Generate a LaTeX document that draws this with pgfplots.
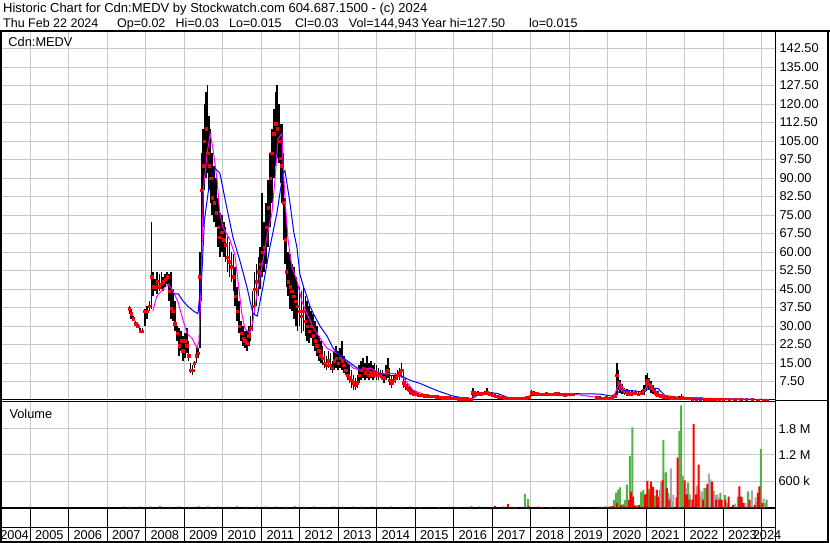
\documentclass[border=0pt]{standalone}
\usepackage{pgfplots}
\pgfplotsset{compat=1.18}
\usepackage{pgfplotstable}
\usepackage{fontspec}
\setmainfont{Liberation Sans}
\definecolor{gridc}{RGB}{200,200,200}
\definecolor{vgreen}{RGB}{80,180,70}
\definecolor{vgray}{RGB}{168,168,168}
\definecolor{magline}{RGB}{255,0,255}
\definecolor{blueline}{RGB}{0,0,255}

\pgfplotstableread{
t lo hi cl
2007.58 35 38 37
2007.63 33 37 35
2007.68 32 34 33
2007.74 30 32 31
2007.80 29 31 30
2007.86 27 29 28
2007.92 27 29 28
2007.98 30 37 36
2008.04 33 38 36
2008.10 36 40 38
2008.16 37 72 50
2008.20 42 52 46
2008.25 44 49 46
2008.30 43 52 48
2008.36 44 51 46
2008.41 45 52 47
2008.46 44 50 48
2008.51 46 51 49
2008.56 47 52 50
2008.61 40 51 44
2008.66 33 52 37
2008.71 32 45 36
2008.76 28 40 31
2008.82 24 30 27
2008.87 18 29 22
2008.92 20 28 24
2008.97 16 26 20
2009.02 17 27 24
2009.07 19 29 22
2009.12 16 24 18
2009.17 11 15 12
2009.22 10 14 12
2009.27 13 16 15
2009.32 15 21 18
2009.36 17 21 19
2009.41 21 60 50
2009.45 40 100 85
2009.49 70 110 95
2009.53 85 120 105
2009.57 90 125 110
2009.61 92 127.5 100
2009.65 85 115 95
2009.69 80 110 90
2009.73 75 100 82
2009.78 72 95 80
2009.83 70 90 76
2009.88 62 82 70
2009.93 58 76 66
2009.98 60 75 68
2010.03 58 72 65
2010.08 56 70 63
2010.13 52 66 58
2010.18 50 64 56
2010.23 48 60 54
2010.28 44 59 50
2010.33 38 54 42
2010.38 32 46 36
2010.43 27 40 30
2010.48 24 32 27
2010.53 22 30 25
2010.58 21 28 24
2010.63 20 28 23
2010.68 22 30 26
2010.73 24 34 29
2010.78 28 44 38
2010.83 35 52 45
2010.88 38 55 48
2010.93 42 58 52
2010.98 45 62 55
2011.03 50 84 60
2011.08 52 72 62
2011.13 55 80 70
2011.18 62 89 78
2011.23 70 100 90
2011.28 80 110 100
2011.33 90 118 108
2011.38 95 125 112
2011.42 98 127.5 110
2011.46 96 120 105
2011.50 88 112 98
2011.54 80 112 95
2011.58 65 100 80
2011.62 55 82 65
2011.66 46 72 52
2011.70 42 60 48
2011.75 37 59 46
2011.80 36 55 44
2011.85 33 54 42
2011.90 30 50 40
2011.95 28 48 38
2012.00 30 46 36
2012.05 27 44 34
2012.10 28 46 36
2012.15 26 42 32
2012.20 24 40 30
2012.25 23 38 28
2012.30 25 36 30
2012.35 22 35 26
2012.40 20 32 24
2012.45 18 30 22
2012.50 16 26 20
2012.55 15 24 18
2012.60 14 22 17
2012.65 13 20 15
2012.70 12 18 14
2012.75 13 20 16
2012.80 12 19 14
2012.85 11 16 13
2012.90 12 20 16
2012.95 13 22 17
2013.00 12 20 15
2013.05 13 21 17
2013.10 12 24 16
2013.15 11 18 14
2013.20 10 16 12
2013.25 8 15 10
2013.30 7 14 9
2013.35 5 12 8
2013.40 4 10 7
2013.45 4 9 6
2013.50 5 10 7
2013.55 7 14 10
2013.60 8 16 12
2013.65 9 17 13
2013.70 8 15 11
2013.75 9 18 12
2013.80 8 15 10
2013.85 9 16 11
2013.90 8 14 10
2013.95 9 15 11
2014.00 8 14 10
2014.05 8 13 10
2014.10 9 12 10
2014.15 8 12 9
2014.20 7 11 9
2014.25 8 14 11
2014.29 9 17 12
2014.34 6 13 8
2014.39 5 10 7
2014.44 6 10 8
2014.49 7 11 9
2014.54 8 12 10
2014.60 8 13 11
2014.65 9 15 12
2014.70 5 12 7
2014.75 4 9 6
2014.80 3.5 7 5
2014.85 2.5 6 4
2014.90 2 5 3
2014.95 2 4 2.5
2015.00 1.5 3.5 2.5
2015.08 1.5 3 2
2015.16 1.5 2.6 2
2015.24 1.2 2.5 1.8
2015.32 1.2 2.4 1.8
2015.40 1 2.2 1.6
2015.48 1 2 1.5
2015.56 0.8 1.8 1.3
2015.64 0.8 1.8 1.2
2015.72 0.6 1.6 1.0
2015.80 0.6 1.5 1.0
2015.88 0.5 1.4 0.9
2015.96 0.5 1.2 0.8
2016.04 0.4 1.0 0.7
2016.12 0.3 0.9 0.5
2016.20 0.3 0.8 0.5
2016.28 0.3 0.8 0.5
2016.36 0.3 0.8 0.5
2016.44 0.2 0.7 0.4
2016.50 1.0 5.0 3.0
2016.56 1.5 3.5 2.5
2016.64 2.0 3.5 2.6
2016.72 2.0 3.4 2.6
2016.80 2.2 3.6 2.8
2016.86 2.0 5.0 3.0
2016.92 1.8 3.4 2.5
2017.00 1.2 2.8 2.0
2017.08 1.0 2.4 1.6
2017.16 0.8 2.0 1.3
2017.24 0.6 1.8 1.1
2017.32 0.5 1.5 0.9
2017.40 0.4 1.3 0.8
2017.48 0.4 1.2 0.8
2017.56 0.4 1.2 0.7
2017.64 0.4 1.1 0.7
2017.72 0.4 1.1 0.8
2017.80 0.5 1.2 0.8
2017.88 0.6 1.4 1.0
2017.96 0.8 1.6 1.2
2018.02 1.5 4.0 3.0
2018.08 1.8 3.6 2.8
2018.16 1.8 3.2 2.6
2018.24 1.6 3.0 2.4
2018.32 1.6 3.0 2.4
2018.40 1.8 3.2 2.6
2018.48 1.6 3.0 2.4
2018.56 1.6 3.0 2.4
2018.64 1.8 3.2 2.5
2018.72 1.8 3.4 2.6
2018.80 1.6 3.0 2.4
2018.88 1.4 2.8 2.2
2018.96 1.6 3.0 2.4
2019.04 1.6 3.0 2.4
2019.10 1.6 3.0 2.4
2019.72 0.5 1.8 1.0
2019.80 0.4 1.6 0.8
2019.88 0.4 1.4 0.8
2019.96 0.5 1.6 1.0
2020.04 0.4 1.4 0.8
2020.12 0.5 1.6 1.0
2020.20 0.8 2.6 1.8
2020.24 2.0 14.8 10
2020.28 4.0 12 7
2020.32 3.0 8 5
2020.38 2.5 6.5 4
2020.44 2.0 5 3.2
2020.50 1.8 4.5 3
2020.56 1.5 4 2.6
2020.64 1.8 4 2.8
2020.72 2.0 4 3
2020.80 1.5 3.5 2.4
2020.88 2.0 4 2.8
2020.94 2.0 6 4
2021.00 3.5 10 7
2021.04 5 11 8
2021.08 4 9 6.5
2021.12 3 7.5 5
2021.18 2.5 6 4
2021.24 1.8 4.5 3
2021.30 1.2 3.5 2
2021.38 1.0 2.6 1.8
2021.46 0.8 2.2 1.4
2021.54 0.6 1.8 1.2
2021.62 0.5 1.5 1.0
2021.70 0.6 1.6 1.0
2021.78 0.4 1.2 0.8
2021.86 0.4 1.5 0.8
2021.92 0.5 2.4 1.0
2022.00 0.4 1.4 0.8
2022.10 0.3 1.2 0.7
2022.20 0.3 1.1 0.6
2022.30 0.3 1.0 0.6
2022.40 0.2 0.9 0.5
2022.50 0.2 0.8 0.4
2022.60 0.2 0.7 0.4
2022.70 0.1 0.5 0.3
2022.80 0.1 0.4 0.2
2022.90 0.05 0.3 0.15
2023.00 0.05 0.25 0.15
2023.15 0.04 0.2 0.1
2023.30 0.03 0.15 0.08
2023.45 0.03 0.12 0.06
2023.60 0.02 0.1 0.05
2023.75 0.02 0.08 0.04
2023.90 0.015 0.06 0.03
2024.05 0.015 0.05 0.03
2024.14 0.015 0.03 0.03
}\price

\pgfplotstableread{
t v
2008.19 36
2008.29 42
2008.46 45
2008.59 47
2008.72 44
2008.85 39.5
2008.98 32
2009.08 27
2009.21 25
2009.34 21
2009.39 24
2009.47 62
2009.50 85
2009.60 100
2009.68 108
2009.75 102
2009.86 89
2009.93 75.6
2010.01 70
2010.19 65
2010.32 59
2010.40 48.5
2010.50 35
2010.58 29
2010.71 27
2010.79 32
2010.92 45.6
2011.05 56.5
2011.15 66
2011.28 75.6
2011.36 89
2011.44 106
2011.54 108
2011.57 96
2011.62 82
2011.70 65
2011.80 54
2011.93 48.5
2012.06 40
2012.19 35
2012.35 29.5
2012.53 25
2012.71 21
2012.97 19
2013.13 17
2013.39 13
2013.57 12
2013.83 13
2014.09 10.8
2014.43 10.8
2014.69 9
2014.95 3.9
2015.31 1.8
2015.80 1.0
2016.17 0.6
2016.45 0.4
2016.55 2
2016.70 2.8
2016.90 2.8
2017.10 1.8
2017.40 0.9
2017.90 1.0
2018.05 2.6
2018.30 2.4
2019.10 2.4
2019.75 1.0
2020.15 0.9
2020.25 5
2020.32 7
2020.42 4.5
2020.55 3
2020.80 2.6
2020.95 3.5
2021.05 7
2021.12 6.5
2021.25 3.5
2021.40 1.8
2021.70 1.0
2021.95 1.0
2022.50 0.4
2023.00 0.15
2024.14 0.05
}\magma

\pgfplotstableread{
t v
2008.70 43
2008.85 43
2008.98 40
2009.10 38
2009.25 36
2009.36 35
2009.46 50
2009.53 73
2009.67 89
2009.80 94
2009.93 92
2010.11 78
2010.27 66
2010.45 56.5
2010.63 46
2010.79 35
2010.90 34
2011.05 46
2011.23 62
2011.41 75.6
2011.57 92
2011.62 93
2011.75 80
2011.85 68
2011.93 62
2012.01 51
2012.10 46
2012.19 42
2012.27 38
2012.36 35
2012.53 30
2012.71 26
2012.87 21
2013.05 18
2013.23 16
2013.49 13
2013.75 12
2014.27 10
2014.61 10
2014.87 8
2015.13 6.7
2015.57 3.8
2015.98 1.6
2016.20 1.0
2016.43 0.3
2016.52 1
2016.70 2.6
2016.97 3
2017.15 2.6
2017.41 1
2017.93 0.6
2018.02 1.8
2018.20 2.6
2019.00 2.6
2019.80 2.4
2020.10 1.6
2020.22 2.6
2020.35 3.9
2020.58 3.9
2020.92 3.2
2021.10 5
2021.31 4.6
2021.49 1.8
2021.88 1
2022.74 0.6
2024.14 0.2
}\bluema

\pgfplotsset{
  swbase/.style={
    scale only axis,
    xmin=2004.221, xmax=2024.346,
    axis line style={black, line width=1pt},
    major tick length=0pt,
    tick style={draw=none},
    xtick={2005,2006,2007,2008,2009,2010,2011,2012,2013,2014,2015,2016,2017,2018,2019,2020,2021,2022,2023,2024},
    xticklabels={},
    xmajorgrids, ymajorgrids,
    grid style={gridc, line width=0.9pt},
  }
}

\begin{document}
\begin{tikzpicture}[x=1pt, y=1pt, font=\fontsize{12.8}{15}\selectfont]
\path[use as bounding box] (0,0) rectangle (830,543);

% title
\node[anchor=base west, inner sep=0, font=\fontsize{13}{15}\selectfont] at (3,530.3) {Historic Chart for Cdn:MEDV by Stockwatch.com 604.687.1500 - (c) 2024};
\begin{scope}[font=\fontsize{12.5}{14}\selectfont]
\node[anchor=base west, inner sep=0] at (3,515.7) {Thu Feb 22 2024};
\node[anchor=base west, inner sep=0] at (116.9,515.7) {Op=0.02};
\node[anchor=base west, inner sep=0] at (175.5,515.7) {Hi=0.03};
\node[anchor=base west, inner sep=0] at (229,515.7) {Lo=0.015};
\node[anchor=base west, inner sep=0] at (295,515.7) {Cl=0.03};
\node[anchor=base west, inner sep=0] at (348.7,515.7) {Vol=144,943};
\node[anchor=base west, inner sep=0] at (421,515.7) {Year hi=127.50};
\node[anchor=base west, inner sep=0] at (529,515.7) {lo=0.015};
\end{scope}

% price panel
\begin{axis}[swbase, at={(0pt,143pt)}, anchor=south west, width=775pt, height=368pt,
  ymin=0, ymax=149.19,
  ytick={7.5,15,22.5,30,37.5,45,52.5,60,67.5,75,82.5,90,97.5,105,112.5,120,127.5,135,142.5},
  yticklabel pos=right,
  yticklabel style={anchor=west, xshift=1pt},
  /pgf/number format/fixed, /pgf/number format/fixed zerofill,
  /pgf/number format/precision=2, /pgf/number format/assume math mode=true]
\addplot[draw=none, mark=none, error bars/.cd, y dir=plus, y explicit, error mark=none,
  error bar style={draw=black, line width=1.6pt}]
  table[x=t, y=lo, y error expr=\thisrow{hi}-\thisrow{lo}] {\price};
\addplot[only marks, mark=square*, mark size=1.2pt, red, mark options={draw=red, fill=red}]
  table[x=t, y=cl] {\price};
\addplot[magline, line width=1pt] table[x=t, y=v] {\magma};
\addplot[blueline, line width=1pt] table[x=t, y=v] {\bluema};
\end{axis}

% volume panel
\begin{axis}[swbase, at={(0pt,35.5pt)}, anchor=south west, width=775pt, height=105.5pt,
  ymin=0, ymax=2407000, scaled y ticks=false,
  ytick={600000,1200000,1800000}, yticklabels={600 k,1.2 M,1.8 M},
  yticklabel pos=right, yticklabel style={anchor=west, xshift=0pt}]
\addplot[ybar, bar width=2pt, bar shift=0pt, fill=vgreen, draw=none] coordinates {
(2007.62,20000) (2008.12,25000) (2008.62,20000) (2009.12,20000) (2009.62,25000) (2010.12,20000) (2010.62,20000) (2011.12,25000) (2011.62,20000) (2012.12,20000) (2012.62,20000) (2013.12,20000) (2013.62,20000) (2014.12,20000) (2014.62,20000) (2015.12,15000) (2015.62,15000) (2016.12,15000) (2016.46,35000) (2016.80,20000) (2017.30,25000) (2017.85,312000) (2017.93,196000) (2018.30,15000) (2018.70,20000) (2019.10,20000) (2019.75,20000) (2019.95,25000)
(2020.16,170000) (2020.22,340000) (2020.27,400000) (2020.32,457000) (2020.40,80000) (2020.45,170000) (2020.50,520000) (2020.58,1170000) (2020.64,1830000) (2020.76,50000) (2020.87,360000) (2020.93,400000) (2021.08,430000) (2021.15,300000) (2021.23,270000) (2021.36,400000) (2021.45,1540000) (2021.51,800000) (2021.57,330000) (2021.69,120000) (2021.86,1740000) (2021.91,2330000) (2021.95,730000) (2022.09,570000) (2022.41,250000) (2022.51,440000) (2022.56,440000) (2022.75,380000) (2022.93,330000) (2023.05,280000) (2023.38,250000) (2023.65,370000) (2023.87,120000) (2023.98,1330000) (2024.08,100000) (2024.13,180000)
};
\addplot[ybar, bar width=2pt, bar shift=0pt, fill=vgray, draw=none] coordinates {
(2017.60,20000) (2018.50,15000) (2019.85,20000) (2021.39,580000) (2021.59,250000) (2021.64,890000) (2021.71,290000) (2021.84,300000) (2022.05,450000) (2022.14,300000) (2022.32,500000) (2022.38,430000) (2022.45,370000) (2022.63,770000) (2022.67,640000) (2022.79,290000) (2022.85,300000) (2022.88,230000) (2023.10,100000) (2023.31,90000) (2023.50,230000) (2023.58,100000) (2023.75,390000) (2023.84,230000) (2024.05,200000)
};
\addplot[ybar, bar width=2pt, bar shift=0pt, fill=red, draw=none] coordinates {
(2007.45,20000) (2007.87,20000) (2008.37,25000) (2008.87,20000) (2009.37,25000) (2009.87,20000) (2010.37,25000) (2010.87,20000) (2011.37,20000) (2011.87,25000) (2012.37,20000) (2012.87,20000) (2013.37,20000) (2013.87,20000) (2014.37,20000) (2014.87,20000) (2015.37,15000) (2015.87,15000) (2016.37,15000) (2016.65,20000) (2017.07,35000) (2017.41,80000) (2017.95,30000) (2018.20,20000) (2018.90,15000) (2019.30,15000)
(2020.06,25000) (2020.13,30000) (2020.24,100000) (2020.35,60000) (2020.43,30000) (2020.55,170000) (2020.61,360000) (2020.66,250000) (2020.71,50000) (2020.82,60000) (2020.97,300000) (2021.03,610000) (2021.11,350000) (2021.13,590000) (2021.18,470000) (2021.28,400000) (2021.31,250000) (2021.43,630000) (2021.54,450000) (2021.60,180000) (2021.79,230000) (2021.82,1140000) (2022.00,620000) (2022.06,300000) (2022.12,180000) (2022.20,180000) (2022.23,1900000) (2022.30,300000) (2022.36,980000) (2022.48,180000) (2022.59,540000) (2022.71,590000) (2022.82,180000) (2022.90,180000) (2022.96,180000) (2023.06,180000) (2023.14,250000) (2023.26,60000) (2023.42,480000) (2023.47,250000) (2023.53,100000) (2023.69,180000) (2023.82,60000) (2023.90,340000) (2023.94,480000) (2024.02,100000)
};
\end{axis}

% date band
\begin{axis}[swbase, at={(0pt,1pt)}, anchor=south west, width=775pt, height=33pt,
  ymin=0, ymax=2, ytick={0.91}, yticklabels={},
  grid style={black, line width=0.8pt}, clip=false]
\node[anchor=west, inner sep=0] at (axis cs:2004.225,0.42) {2004};
\pgfplotsinvokeforeach{2005,2006,2007,2008,2009,2010,2011,2012,2013,2014,2015,2016,2017,2018,2019,2020,2021,2022,2023}{
  \node[inner sep=0] at (axis cs:#1.5,0.42) {#1};
}
\node[inner sep=0] at (axis cs:2024.14,0.42) {2024};
\end{axis}

% labels and frame
\node[anchor=base west, inner sep=0] at (8.3,496.3) {Cdn:MEDV};
\node[anchor=base west, inner sep=0] at (9.3,124.7) {Volume};
\draw[line width=1pt] (775,142) -- (828,142);
\draw[line width=2pt] (0,512) -- (830,512);
\draw[line width=2pt] (1,512) -- (1,1) -- (828,1) -- (828,512);
\end{tikzpicture}
\end{document}
